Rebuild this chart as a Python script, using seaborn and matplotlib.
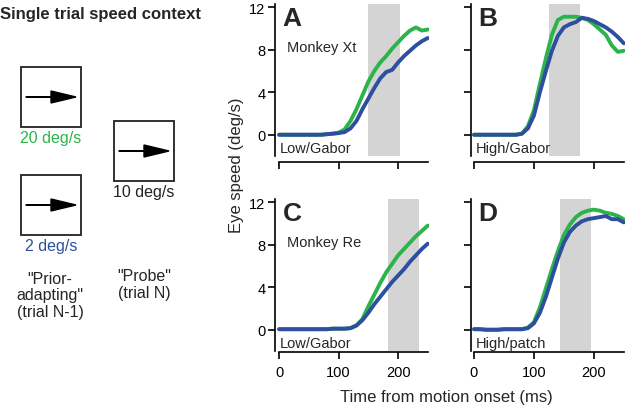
"""Eye speed traces for single trial speed context (panels A-D)."""

import matplotlib.pyplot as plt
import matplotlib.patches as mpatches
import numpy as np
import pandas as pd
import seaborn as sns

# time axis (ms)
time_ms = list(range(0, 260, 10))

# eye speed (deg/s), 20 deg/s prior (green) vs 2 deg/s prior (blue)
a_fast = [0, 0, 0, 0, 0, 0, 0, 0, 0.05, 0.1, 0.2, 0.5, 1.3, 2.4, 3.7, 5.0,
          6.0, 6.8, 7.4, 8.1, 8.7, 9.3, 9.8, 10.1, 9.8, 9.9]
a_slow = [0, 0, 0, 0, 0, 0, 0, 0, 0.05, 0.1, 0.15, 0.25, 0.6, 1.3, 2.4, 3.4,
          4.4, 5.3, 5.9, 6.1, 6.8, 7.4, 7.9, 8.4, 8.8, 9.1]
b_fast = [0, 0, 0, 0, 0, 0, 0, 0, 0.1, 0.8, 2.3, 4.8, 7.2, 9.4, 10.8, 11.1,
          11.1, 11.1, 11.0, 10.8, 10.4, 9.9, 9.4, 8.4, 7.8, 7.9]
b_slow = [0, 0, 0, 0, 0, 0, 0, 0, 0.1, 0.6, 1.8, 4.0, 6.0, 7.9, 9.3, 10.1,
          10.4, 10.6, 11.0, 10.9, 10.7, 10.4, 10.1, 9.7, 9.2, 8.6]
c_fast = [0.05, 0.05, 0.05, 0.05, 0.05, 0.05, 0.05, 0.05, 0.05, 0.1, 0.1, 0.1,
          0.15, 0.4, 1.0, 2.2, 3.3, 4.4, 5.4, 6.2, 7.0, 7.6, 8.2, 8.8, 9.3, 9.8]
c_slow = [0.05, 0.05, 0.05, 0.05, 0.05, 0.05, 0.05, 0.05, 0.05, 0.1, 0.1, 0.1,
          0.15, 0.4, 0.9, 1.6, 2.4, 3.1, 3.8, 4.5, 5.1, 5.7, 6.4, 7.0, 7.6, 8.1]
d_fast = [0.05, 0.05, 0, 0, 0, 0.05, 0.05, 0.05, 0.05, 0.2, 0.7, 2.1, 3.9, 5.7,
          7.4, 8.9, 9.9, 10.6, 11.0, 11.2, 11.3, 11.2, 11.0, 10.9, 10.7, 10.4]
d_slow = [0.05, 0.05, 0, 0, 0, 0.05, 0.05, 0.05, 0.05, 0.15, 0.6, 1.6, 3.1, 4.9,
          6.7, 8.2, 9.2, 9.8, 10.2, 10.4, 10.5, 10.6, 10.7, 10.4, 10.4, 10.1]

panel_letters = ["A", "B", "C", "D"]
panel_conditions = ["Low/Gabor", "High/Gabor", "Low/Gabor", "High/patch"]
panel_monkeys = ["Monkey Xt", "", "Monkey Re", ""]
shade_start = [150, 125, 183, 143]
shade_end = [203, 177, 235, 195]

y_ticks = [0, 4, 8, 12]
x_ticks = [0, 100, 200]

GREEN = "#2cb34a"
BLUE = "#2d4f9e"

sns.set_theme(style="ticks")
plt.rcParams["font.family"] = ["Liberation Sans", "DejaVu Sans"]

fig = plt.figure(figsize=(6.25, 4.06), dpi=100)
W, H = 625, 406


def px_axes(left, top, width, height):
    return fig.add_axes([left / W, 1 - (top + height) / H, width / W, height / H])


axes = [
    px_axes(275, 5, 154, 152),
    px_axes(471, 5, 154, 152),
    px_axes(275, 200, 154, 152),
    px_axes(471, 200, 154, 152),
]
xlims = [(-7, 252), (-5, 252), (-7, 252), (-5, 252)]

series = [(a_fast, a_slow), (b_fast, b_slow), (c_fast, c_slow), (d_fast, d_slow)]

for i, ax in enumerate(axes):
    fast, slow = series[i]
    df = pd.DataFrame({
        "time": time_ms * 2,
        "speed": fast + slow,
        "prior": ["20 deg/s"] * len(time_ms) + ["2 deg/s"] * len(time_ms),
    })
    ax.axvspan(shade_start[i], shade_end[i], color="#d4d4d4", lw=0, zorder=0)
    sns.lineplot(data=df, x="time", y="speed", hue="prior",
                 palette={"20 deg/s": GREEN, "2 deg/s": BLUE},
                 linewidth=2.8, legend=False, ax=ax, zorder=3)
    ax.set_xlim(*xlims[i])
    ax.set_ylim(-2, 12.3)
    ax.set_facecolor("none")
    sns.despine(ax=ax)
    ax.spines["bottom"].set_position(("outward", 4 if i < 2 else 1))
    ax.spines["bottom"].set_bounds(0, 250)
    ax.spines["left"].set_bounds(-2, 12.3)
    for sp in ("left", "bottom"):
        ax.spines[sp].set_linewidth(1.2)
        ax.spines[sp].set_color("black")
    ax.set_yticks(y_ticks)
    ax.set_xticks(x_ticks)
    ax.tick_params(direction="out", length=5, width=1.2, labelsize=10.5,
                   colors="black", pad=2)
    ax.set_xlabel("")
    ax.set_ylabel("")
    if i % 2 == 1:
        ax.set_yticklabels([])
    if i < 2:
        ax.set_xticklabels([])
    else:
        ax.tick_params(axis="x", pad=4)
    ax.text(0.05, 0.99, panel_letters[i], transform=ax.transAxes,
            fontsize=19, fontweight="bold", va="top", ha="left")
    if panel_monkeys[i]:
        ax.text(0.08, 0.72, panel_monkeys[i], transform=ax.transAxes,
                fontsize=10.5, va="center", ha="left")
    ax.text(0.03, 0.005, panel_conditions[i], transform=ax.transAxes,
            fontsize=10.5, va="bottom", ha="left")

fig.text(237 / W, 1 - 165 / H, "Eye speed (deg/s)", rotation=90,
         ha="center", va="center", fontsize=12)
fig.text(446 / W, 1 - 398 / H, "Time from motion onset (ms)",
         ha="center", va="center", fontsize=12)

# schematic on the left
sk = fig.add_axes([0, 0, 1, 1])
sk.set_xlim(0, W)
sk.set_ylim(H, 0)
sk.axis("off")
sk.patch.set_alpha(0)

sk.text(0, 15, "Single trial speed context", fontsize=12, fontweight="bold",
        ha="left", va="center")

boxes = [(21, 68, "20 deg/s", GREEN), (21, 176, "2 deg/s", BLUE),
         (114, 122, "10 deg/s", "#222222")]
for bx, by, lab, col in boxes:
    sk.add_patch(mpatches.Rectangle((bx, by), 60, 60, fill=False,
                                    edgecolor="#222222", lw=1.3))
    sk.add_patch(mpatches.FancyArrow(bx + 5, by + 30, 50, 0, width=0.5,
                                     head_width=12, head_length=25,
                                     length_includes_head=True, color="black"))
    sk.text(bx + 30, by + 71, lab, color=col, fontsize=11.5, ha="center",
            va="center")

sk.text(50, 296, '"Prior-\nadapting"\n(trial N-1)', fontsize=11.5,
        ha="center", va="center", linespacing=1.1)
sk.text(144, 285, '"Probe"\n(trial N)', fontsize=11.5, ha="center",
        va="center", linespacing=1.1)

fig.savefig("out.png", dpi=100)
